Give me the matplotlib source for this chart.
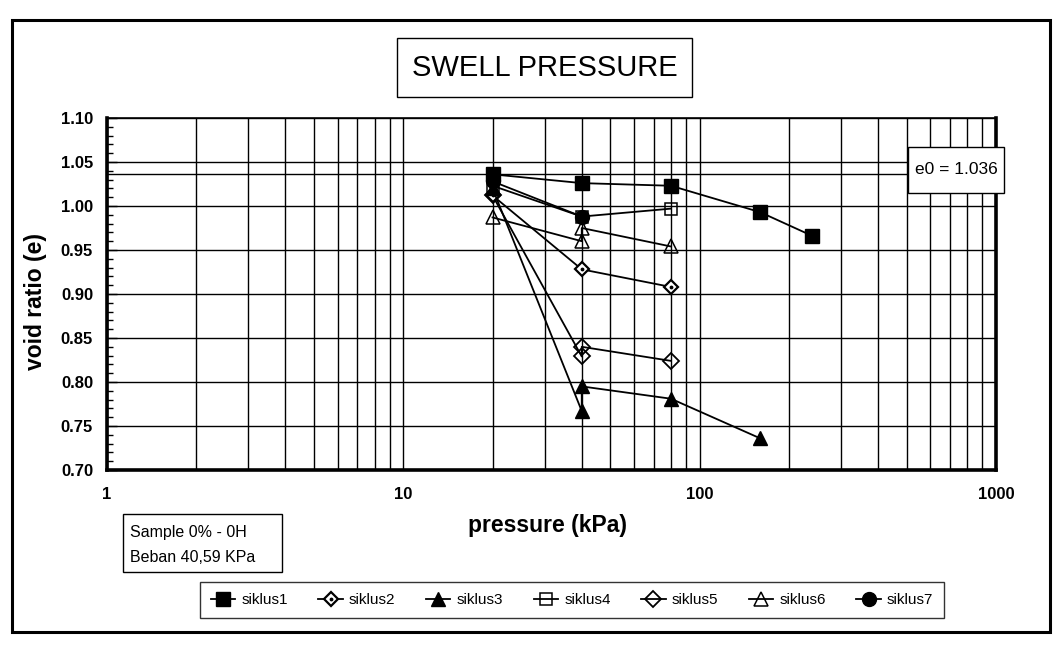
import matplotlib
matplotlib.use("Agg")
import matplotlib.pyplot as plt
from matplotlib.patches import Rectangle

# ---- data -------------------------------------------------------------
pressure = [20, 40, 80, 160, 240]

s1_p = [20, 40, 80, 160, 240]
s1_e = [1.036, 1.026, 1.023, 0.993, 0.966]

s2_p = [20, 40, 80]
s2_e = [1.012, 0.928, 0.908]

s3_p = [20, 40, 40, 80, 160]
s3_e = [1.020, 0.767, 0.795, 0.781, 0.736]

s4_p = [20, 40, 80]
s4_e = [1.023, 0.988, 0.997]

s5_p = [20, 40, 40, 80]
s5_e = [1.012, 0.829, 0.840, 0.824]

s6_p = [20, 40, 40, 80]
s6_e = [0.987, 0.960, 0.975, 0.954]

s7_p = [20, 40]
s7_e = [1.028, 0.988]

e0 = 1.036
x_ticks = [1, 10, 100, 1000]
x_ticklabels = ["1", "10", "100", "1000"]
y_ticks = [0.70, 0.75, 0.80, 0.85, 0.90, 0.95, 1.00, 1.05, 1.10]

# ---- fonts ------------------------------------------------------------
plt.rcParams["font.family"] = ["Liberation Sans", "DejaVu Sans"]

W, H = 1057, 649
fig = plt.figure(figsize=(W / 100, H / 100), dpi=100)


def fx(px):
    return px / W


def fy(py):
    return 1 - py / H


# ---- axes -------------------------------------------------------------
L, R, T, B = 107, 996, 118, 470
ax = fig.add_axes([fx(L), fy(B), (R - L) / W, (B - T) / H])
ax.set_xscale("log")
ax.set_xlim(1, 1000)
ax.set_ylim(0.70, 1.10)

minor_x = [m * 10 ** d for d in range(3) for m in range(2, 10)]
ax.set_xticks(x_ticks)
ax.set_xticklabels(x_ticklabels)
ax.set_xticks(minor_x, minor=True)
ax.set_xticklabels([], minor=True)
ax.set_yticks(y_ticks)
ax.set_yticklabels([f"{v:.2f}" for v in y_ticks])
ax.set_yticks([round(0.70 + 0.01 * i, 2) for i in range(41)], minor=True)

ax.grid(which="both", axis="x", color="black", lw=1.0)
ax.grid(which="major", axis="y", color="black", lw=1.0)
ax.set_axisbelow(True)

ax.tick_params(axis="x", which="both", length=0, pad=12, labelsize=12)
ax.tick_params(axis="y", which="major", direction="in", length=7, width=1,
               pad=10, labelsize=12)
ax.tick_params(axis="y", which="minor", direction="in", length=4, width=1)
for lab in ax.get_xticklabels() + ax.get_yticklabels():
    lab.set_fontweight("bold")

for sp in ax.spines.values():
    sp.set_linewidth(2.6)
    sp.set_color("black")
ax.spines["top"].set_linewidth(1.2)

ax.set_xlabel("pressure (kPa)", fontsize=16.5, fontweight="bold")
ax.set_ylabel("void ratio (e)", fontsize=16.5, fontweight="bold")
ax.xaxis.set_label_coords(0.495, -0.126)
ax.yaxis.set_label_coords(-0.068, 0.48)

# initial void ratio line
ax.axhline(e0, color="black", lw=1.0, zorder=1.5)

# ---- series -----------------------------------------------------------
kw = dict(color="black", lw=1.3, zorder=3)
h4, = ax.plot(s4_p, s4_e, marker="s", ms=9, mfc="none", mec="black", mew=1.1, label="siklus4", **kw)
h6, = ax.plot(s6_p, s6_e, marker="^", ms=10, mfc="none", mec="black", mew=1.1, label="siklus6", **kw)
h5, = ax.plot(s5_p, s5_e, marker="D", ms=8, mfc="none", mec="black", mew=1.3, label="siklus5", **kw)
h2, = ax.plot(s2_p, s2_e, marker="D", ms=7.5, mfc="white", mec="black", mew=1.6, label="siklus2", **kw)
h2d, = ax.plot(s2_p, s2_e, ls="none", marker=".", ms=3.5, color="black", zorder=4)
h3, = ax.plot(s3_p, s3_e, marker="^", ms=10, mfc="black", mec="black", label="siklus3", **kw)
h7, = ax.plot(s7_p, s7_e, marker="o", ms=10, mfc="black", mec="black", label="siklus7", **kw)
h1, = ax.plot(s1_p, s1_e, marker="s", ms=10, mfc="black", mec="black", label="siklus1", **kw)

# ---- boxes and notes --------------------------------------------------
def box(x0, y0, x1, y1, lw=1.0):
    fig.patches.append(Rectangle((fx(x0), fy(y1)), (x1 - x0) / W, (y1 - y0) / H,
                                 transform=fig.transFigure, fc="white",
                                 ec="black", lw=lw, zorder=5))


box(397, 38, 692, 97)
fig.text(fx(545), fy(68), "SWELL PRESSURE", fontsize=21, ha="center",
         va="center", zorder=6)

box(908, 147, 1004, 193)
fig.text(fx(956), fy(170), "e0 = 1.036", fontsize=12.5, ha="center",
         va="center", zorder=6)

box(123, 514, 282, 572)
fig.text(fx(130), fy(533), "Sample 0% - 0H", fontsize=11.5, ha="left",
         va="center", zorder=6)
fig.text(fx(130), fy(557), "Beban 40,59 KPa", fontsize=11.5, ha="left",
         va="center", zorder=6)

handles = [h1, (h2, h2d), h3, h4, h5, h6, h7]
labels = ["siklus1", "siklus2", "siklus3", "siklus4", "siklus5", "siklus6", "siklus7"]
leg = fig.legend(handles, labels, ncol=7, loc="center",
                 bbox_to_anchor=(fx(572), fy(600)), frameon=True,
                 fancybox=False, edgecolor="black", fontsize=11,
                 handlelength=1.6, handletextpad=0.4, columnspacing=2.0,
                 borderpad=0.7)
leg.get_frame().set_linewidth(1.0)

# outer chart frame
fig.patches.append(Rectangle((fx(12), fy(632)), (1050 - 12) / W, (632 - 20) / H,
                             transform=fig.transFigure, fill=False,
                             ec="black", lw=2.2, zorder=0))

fig.savefig("out.png", dpi=100, facecolor="white")
